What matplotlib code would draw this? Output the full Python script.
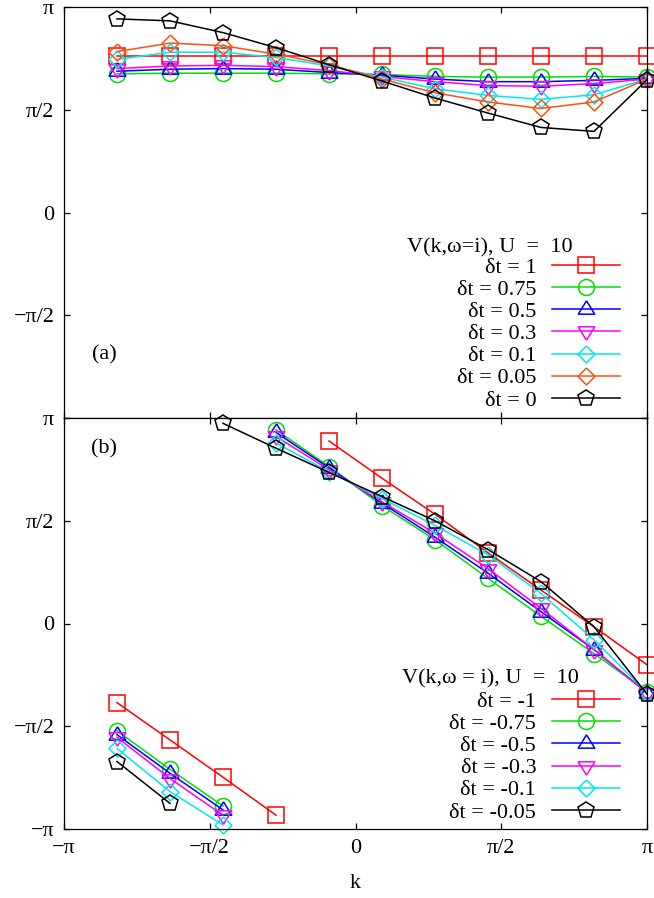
import numpy as np
import matplotlib
matplotlib.use("Agg")
import matplotlib.pyplot as plt

plt.rcParams["font.family"] = ["Liberation Serif", "DejaVu Serif"]

PI = np.pi

# k points: (2m+1)pi/11, m = -5..5
k_vals = [(2 * m + 1) * PI / 11 for m in range(-5, 6)]

# ── panel (a): dt >= 0 ────────────────────────────────────────────────────
labels_a = ["δt = 1", "δt = 0.75", "δt = 0.5", "δt = 0.3", "δt = 0.1", "δt = 0.05", "δt = 0"]
phase_dt_1    = [2.40, 2.40, 2.40, 2.40, 2.40, 2.40, 2.40, 2.40, 2.40, 2.40, 2.40]
phase_dt_075  = [2.12, 2.13, 2.13, 2.13, 2.12, 2.11, 2.08, 2.07, 2.07, 2.08, 2.07]
phase_dt_05   = [2.16, 2.19, 2.20, 2.19, 2.14, 2.10, 2.04, 2.00, 2.00, 2.02, 2.05]
phase_dt_03   = [2.20, 2.24, 2.25, 2.23, 2.17, 2.08, 2.00, 1.94, 1.93, 1.97, 2.04]
phase_dt_01   = [2.34, 2.45, 2.45, 2.37, 2.24, 2.07, 1.89, 1.79, 1.73, 1.80, 2.04]
phase_dt_005  = [2.46, 2.59, 2.55, 2.42, 2.26, 2.04, 1.83, 1.69, 1.59, 1.69, 2.04]
phase_dt_0    = [2.96, 2.93, 2.75, 2.52, 2.26, 2.01, 1.75, 1.52, 1.30, 1.24, 2.03]

# ── panel (b): dt < 0 ─────────────────────────────────────────────────────
labels_b = ["δt = -1", "δt = -0.75", "δt = -0.5", "δt = -0.3", "δt = -0.1", "δt = -0.05"]
phase_dtm_1   = [-1.21, -1.78, -2.35, -2.93, 2.79, 2.22, 1.67, 1.08, 0.51, -0.05, -0.63]
phase_dtm_075 = [-1.64, -2.23, -2.79, 2.96, 2.40, 1.80, 1.28, 0.69, 0.11, -0.46, -1.04]
phase_dtm_05  = [-1.70, -2.29, -2.85, 2.92, 2.38, 1.84, 1.32, 0.77, 0.18, -0.40, -1.06]
phase_dtm_03  = [-1.74, -2.37, -2.93, 2.86, 2.35, 1.86, 1.38, 0.84, 0.23, -0.40, -1.06]
phase_dtm_01  = [-1.91, -2.57, -3.08, 2.76, 2.32, 1.91, 1.50, 1.05, 0.46, -0.25, -1.06]
phase_dtm_005 = [-2.11, -2.75, 3.06, 2.68, 2.31, 1.94, 1.57, 1.13, 0.64, -0.05, -1.08]

series_a = [phase_dt_1, phase_dt_075, phase_dt_05, phase_dt_03, phase_dt_01, phase_dt_005, phase_dt_0]
series_b = [phase_dtm_1, phase_dtm_075, phase_dtm_05, phase_dtm_03, phase_dtm_01, phase_dtm_005]

tick_pos = [-PI, -PI / 2, 0, PI / 2, PI]
tick_lab = ["−π", "−π/2", "0", "π/2", "π"]

# gnuplot-ish point types
TRI_UP   = [(0, 1.0), (-0.95, -0.54), (0.95, -0.54), (0, 1.0)]
TRI_DOWN = [(0, -1.0), (-0.95, 0.54), (0.95, 0.54), (0, -1.0)]
DIAMOND  = [(0, 1), (1, 0), (0, -1), (-1, 0), (0, 1)]

style_a = [
    ("#ff0000", "s", 11.5),
    ("#00e000", "o", 11.5),
    ("#0000ff", TRI_UP, 12.5),
    ("#ff00ff", TRI_DOWN, 12.5),
    ("#00e8f0", DIAMOND, 12.2),
    ("#ff5010", DIAMOND, 12.2),
    ("#000000", "p", 11.9),
]
style_b = [style_a[0], style_a[1], style_a[2], style_a[3], style_a[4], style_a[6]]

FS = 16


def wrap_breaks(x, y):
    """Insert NaN where the phase jumps across the branch cut."""
    xs, ys = [x[0]], [y[0]]
    for i in range(1, len(y)):
        if abs(y[i] - y[i - 1]) > PI:
            xs.append(np.nan)
            ys.append(np.nan)
        xs.append(x[i])
        ys.append(y[i])
    return xs, ys


def draw_panel(ax, series, labels, styles):
    for vals, lab, (col, mk, ms) in zip(series, labels, styles):
        xs, ys = wrap_breaks(k_vals, vals)
        ax.plot(xs, ys, color=col, lw=1.1, marker=mk, ms=ms, mfc="none",
                mec=col, mew=1.1, label=lab, clip_on=False)
    ax.set_xlim(-PI, PI)
    ax.set_ylim(-PI, PI)
    ax.set_xticks(tick_pos)
    ax.tick_params(direction="in", top=True, right=True, length=4.3, width=0.9,
                   labelsize=FS, pad=7)
    for sp in ax.spines.values():
        sp.set_linewidth(0.9)


fig = plt.figure(figsize=(6.54, 8.98), dpi=100)
W, H = 654.0, 898.0
ax_a = fig.add_axes([64 / W, 1 - 418 / H, 583 / W, 411 / H])
ax_b = fig.add_axes([64 / W, 1 - 829 / H, 583 / W, 411 / H])

draw_panel(ax_a, series_a, labels_a, style_a)
draw_panel(ax_b, series_b, labels_b, style_b)

ax_a.set_xticklabels([])
ax_a.set_yticks(tick_pos)
ax_a.set_yticklabels(["", "−π/2", "0", "π/2", "π"])
ax_b.set_yticks(tick_pos)
ax_b.set_yticklabels(tick_lab)
ax_b.set_xticklabels(tick_lab)
ax_b.set_xlabel("k", fontsize=FS, labelpad=12)

leg_kw = dict(frameon=False, markerfirst=False, fontsize=FS, handlelength=3.05,
              handletextpad=0.72, labelspacing=0.07, borderpad=0, borderaxespad=0,
              numpoints=1, loc="center right")
ax_a.legend(bbox_to_anchor=((620 - 64) / 583, (418 - 334) / 411), **leg_kw)
ax_b.legend(bbox_to_anchor=((620 - 64) / 583, (829 - 757) / 411), **leg_kw)

ax_a.text((490 - 64) / 583, (418 - 248) / 411, "V(k,ω=i), U  =  10",
          transform=ax_a.transAxes, ha="center", va="center", fontsize=FS)
ax_b.text((490 - 64) / 583, (829 - 679) / 411, "V(k,ω = i), U  =  10",
          transform=ax_b.transAxes, ha="center", va="center", fontsize=FS)

ax_a.text((104 - 64) / 583, (418 - 355) / 411, "(a)", transform=ax_a.transAxes,
          ha="center", va="center", fontsize=FS)
ax_b.text((104 - 64) / 583, (829 - 449) / 411, "(b)", transform=ax_b.transAxes,
          ha="center", va="center", fontsize=FS)

fig.savefig("out.png", dpi=100)
